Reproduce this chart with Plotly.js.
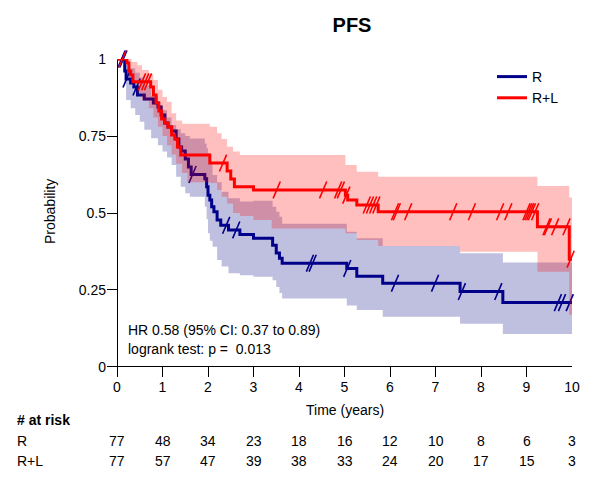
<!DOCTYPE html>
<html>
<head>
<meta charset="utf-8">
<script src="https://cdn.plot.ly/plotly-3.0.1.min.js"></script>
<style>html,body{margin:0;padding:0;background:#fff;}#chart{width:605px;height:498px;}</style>
</head>
<body>
<div id="chart"></div>
<script>
// ---- Data ----
const groups = ["R", "R+L"];
const timeTicks = [0, 1, 2, 3, 4, 5, 6, 7, 8, 9, 10];
const riskR  = [77, 48, 34, 23, 18, 16, 12, 10, 8, 6, 3];
const riskRL = [77, 57, 47, 39, 38, 33, 24, 20, 17, 15, 3];

// KM curve R
const kmR_t = [0, 0.17, 0.2, 0.3, 0.37, 0.45, 0.6, 0.8, 0.9, 0.97, 1.05, 1.12, 1.2, 1.3, 1.36, 1.42, 1.5, 1.57, 1.63, 1.93, 1.97, 2.0, 2.04, 2.08, 2.13, 2.2, 2.28, 2.45, 2.7, 3.0, 3.42, 3.5, 3.57, 3.63, 5.05, 5.27, 5.84, 7.54, 8.48, 10];
const kmR_s = [1, 0.961, 0.935, 0.922, 0.909, 0.883, 0.870, 0.857, 0.844, 0.818, 0.792, 0.779, 0.766, 0.740, 0.714, 0.701, 0.675, 0.649, 0.625, 0.611, 0.585, 0.558, 0.542, 0.520, 0.504, 0.477, 0.460, 0.445, 0.430, 0.418, 0.395, 0.370, 0.353, 0.337, 0.320, 0.295, 0.272, 0.245, 0.209, 0.209];
const censR_t = [0.1, 0.14, 0.21, 0.43, 1.66, 2.4, 2.62, 4.24, 4.3, 5.06, 6.11, 6.99, 7.58, 8.38, 9.69, 9.78, 9.95];
const censR_s = [1, 1, 0.935, 0.909, 0.625, 0.460, 0.445, 0.337, 0.337, 0.320, 0.272, 0.272, 0.245, 0.245, 0.209, 0.209, 0.209];
// CI band R
const ciR_t  = [0, 0.17, 0.2, 0.3, 0.4, 0.5, 0.6, 0.75, 0.9, 1.0, 1.1, 1.2, 1.3, 1.4, 1.5, 1.6, 1.93, 1.97, 2.0, 2.04, 2.1, 2.2, 2.3, 2.45, 2.7, 3.0, 3.42, 3.5, 3.57, 3.63, 5.05, 5.27, 5.84, 7.54, 8.48, 10];
const ciR_lo = [1, 0.92, 0.867, 0.84, 0.818, 0.796, 0.77, 0.743, 0.72, 0.70, 0.68, 0.656, 0.618, 0.585, 0.564, 0.553, 0.52, 0.48, 0.434, 0.41, 0.39, 0.347, 0.326, 0.304, 0.298, 0.293, 0.282, 0.26, 0.24, 0.222, 0.2, 0.185, 0.163, 0.14, 0.107, 0.107];
const ciR_hi = [1, 0.99, 0.98, 0.97, 0.955, 0.94, 0.915, 0.88, 0.85, 0.834, 0.81, 0.786, 0.772, 0.759, 0.75, 0.742, 0.726, 0.71, 0.694, 0.661, 0.623, 0.60, 0.569, 0.548, 0.537, 0.54, 0.52, 0.504, 0.488, 0.465, 0.439, 0.418, 0.393, 0.369, 0.339, 0.339];

// KM curve R+L
const kmL_t = [0, 0.22, 0.26, 0.3, 0.35, 0.74, 0.8, 0.86, 0.92, 0.98, 1.05, 1.12, 1.2, 1.27, 1.33, 1.4, 2.04, 2.42, 2.5, 2.58, 3.0, 5.02, 5.07, 5.27, 5.74, 9.24, 9.94, 10];
const kmL_s = [1, 0.987, 0.961, 0.948, 0.926, 0.909, 0.883, 0.857, 0.831, 0.805, 0.792, 0.779, 0.753, 0.74, 0.714, 0.688, 0.662, 0.636, 0.61, 0.585, 0.575, 0.558, 0.542, 0.526, 0.504, 0.455, 0.35, 0.35];
const censL_t = [0.12, 0.55, 0.62, 0.68, 2.33, 3.51, 4.53, 4.86, 4.92, 5.04, 5.49, 5.56, 5.63, 5.7, 6.11, 6.15, 6.4, 7.39, 7.8, 8.42, 8.6, 9.0, 9.04, 9.08, 9.12, 9.19, 9.44, 9.47, 9.63, 9.88, 9.97];
const censL_s = [1, 0.926, 0.926, 0.926, 0.662, 0.575, 0.575, 0.575, 0.575, 0.558, 0.526, 0.526, 0.526, 0.526, 0.504, 0.504, 0.504, 0.504, 0.504, 0.504, 0.504, 0.504, 0.504, 0.504, 0.504, 0.504, 0.455, 0.455, 0.455, 0.455, 0.35];
// CI band R+L
const ciL_t  = [0, 0.25, 0.32, 0.45, 0.55, 0.7, 0.8, 0.9, 1.0, 1.1, 1.2, 1.3, 1.43, 1.55, 2.04, 2.2, 2.3, 2.42, 2.55, 2.7, 3.0, 3.4, 5.02, 5.27, 5.74, 7.54, 9.24, 9.94, 10];
const ciL_lo = [1, 0.948, 0.92, 0.89, 0.865, 0.84, 0.81, 0.78, 0.75, 0.72, 0.69, 0.66, 0.63, 0.60, 0.597, 0.575, 0.553, 0.531, 0.50, 0.49, 0.477, 0.45, 0.434, 0.412, 0.393, 0.374, 0.309, 0.17, 0.17];
const ciL_hi = [1, 1, 0.99, 0.98, 0.964, 0.95, 0.932, 0.90, 0.877, 0.861, 0.824, 0.80, 0.79, 0.79, 0.78, 0.759, 0.74, 0.715, 0.70, 0.688, 0.688, 0.688, 0.656, 0.634, 0.618, 0.618, 0.588, 0.55, 0.55];

const hrText = "HR 0.58 (95% CI: 0.37 to 0.89)";
const pText = "logrank test: p =  0.013";

// ---- Styling ----
const FONT = "Liberation Sans, Arial, sans-serif";
const FS = 14;
const BLUE = "#00008B", RED = "#FF0000";
const BLUE_FILL = "rgba(0,0,128,0.25)", RED_FILL = "rgba(255,0,0,0.25)";

// pixel -> paper helpers (plot area: left 107, right 572, top 59, bottom 377)
const L = 107, R = 572, T = 59, B = 377;
const px = X => (X - L) / (R - L);
const py = Y => (B - Y) / (B - T);

function band(t, lo, hi, fill) {
  return [
    {x: t, y: lo, mode: "lines", line: {width: 0, shape: "hv"}, showlegend: false, hoverinfo: "skip"},
    {x: t, y: hi, mode: "lines", line: {width: 0, shape: "hv"}, fill: "tonexty", fillcolor: fill, showlegend: false, hoverinfo: "skip"}
  ];
}
function curve(t, s, name, color) {
  return {x: t, y: s, mode: "lines", name: name, line: {color: color, width: 3, shape: "hv"}};
}
function cens(t, s, color) {
  return {x: t, y: s, mode: "markers", showlegend: false, hoverinfo: "skip", cliponaxis: false,
    marker: {symbol: "line-ne", size: 13, angle: -22, line: {color: color, width: 1.6}}};
}

const traces = [
  ...band(ciR_t, ciR_lo, ciR_hi, BLUE_FILL),
  curve(kmR_t, kmR_s, groups[0], BLUE),
  cens(censR_t, censR_s, BLUE),
  ...band(ciL_t, ciL_lo, ciL_hi, RED_FILL),
  curve(kmL_t, kmL_s, groups[1], RED),
  cens(censL_t, censL_s, RED)
];

const annotations = [];
const ann = (o) => annotations.push(Object.assign({showarrow: false, font: {family: FONT, size: FS, color: "#000"}}, o));
ann({text: "Probability", xref: "paper", yref: "paper", x: px(50), y: py(212), textangle: -90, xanchor: "center", yanchor: "middle"});
ann({text: "Time (years)", xref: "paper", yref: "paper", x: px(345), y: py(410), xanchor: "center", yanchor: "middle"});
ann({text: hrText, xref: "paper", yref: "paper", x: px(126), y: py(330), xanchor: "left", yanchor: "middle"});
ann({text: pText, xref: "paper", yref: "paper", x: px(126), y: py(349), xanchor: "left", yanchor: "middle"});
ann({text: "<b># at risk</b>", xref: "paper", yref: "paper", x: px(15), y: py(420), xanchor: "left", yanchor: "middle"});
ann({text: groups[0], xref: "paper", yref: "paper", x: px(15), y: py(441), xanchor: "left", yanchor: "middle"});
ann({text: groups[1], xref: "paper", yref: "paper", x: px(15), y: py(461), xanchor: "left", yanchor: "middle"});
timeTicks.forEach((t, i) => {
  ann({text: String(riskR[i]), xref: "x", yref: "paper", x: t, y: py(441), xanchor: "center", yanchor: "middle"});
  ann({text: String(riskRL[i]), xref: "x", yref: "paper", x: t, y: py(461), xanchor: "center", yanchor: "middle"});
});

const layout = {
  width: 605, height: 498,
  margin: {l: L, r: 605 - R, t: T, b: 498 - B, pad: 0},
  paper_bgcolor: "#fff", plot_bgcolor: "#fff",
  font: {family: FONT, size: FS, color: "#000"},
  title: {text: "<b>PFS</b>", font: {family: FONT, size: 20, color: "#000"}, xref: "paper", x: px(352), xanchor: "center", y: 1 - 25 / 498, yanchor: "middle"},
  xaxis: {range: [-0.22, 10], tickvals: timeTicks, ticktext: timeTicks.map(String), ticks: "inside", ticklen: 10, tickcolor: "#000", tickwidth: 1,
          showgrid: false, showline: false, zeroline: true, zerolinecolor: "#000", zerolinewidth: 1, tickfont: {size: FS}},
  yaxis: {range: [-0.0325, 1], tickvals: [0, 0.25, 0.5, 0.75, 1], ticktext: ["0", "0.25", "0.5", "0.75", "1"], ticks: "inside", ticklen: 10, tickcolor: "#000", tickwidth: 1,
          showgrid: false, showline: false, zeroline: true, zerolinecolor: "#000", zerolinewidth: 1, tickfont: {size: FS}},
  legend: {x: px(492), y: py(61), xanchor: "left", yanchor: "top", bgcolor: "rgba(0,0,0,0)", font: {size: FS}, traceorder: "normal", tracegroupgap: 0},
  showlegend: true,
  annotations: annotations
};

Plotly.newPlot("chart", traces, layout, {displayModeBar: false, staticPlot: true});
</script>
</body>
</html>
